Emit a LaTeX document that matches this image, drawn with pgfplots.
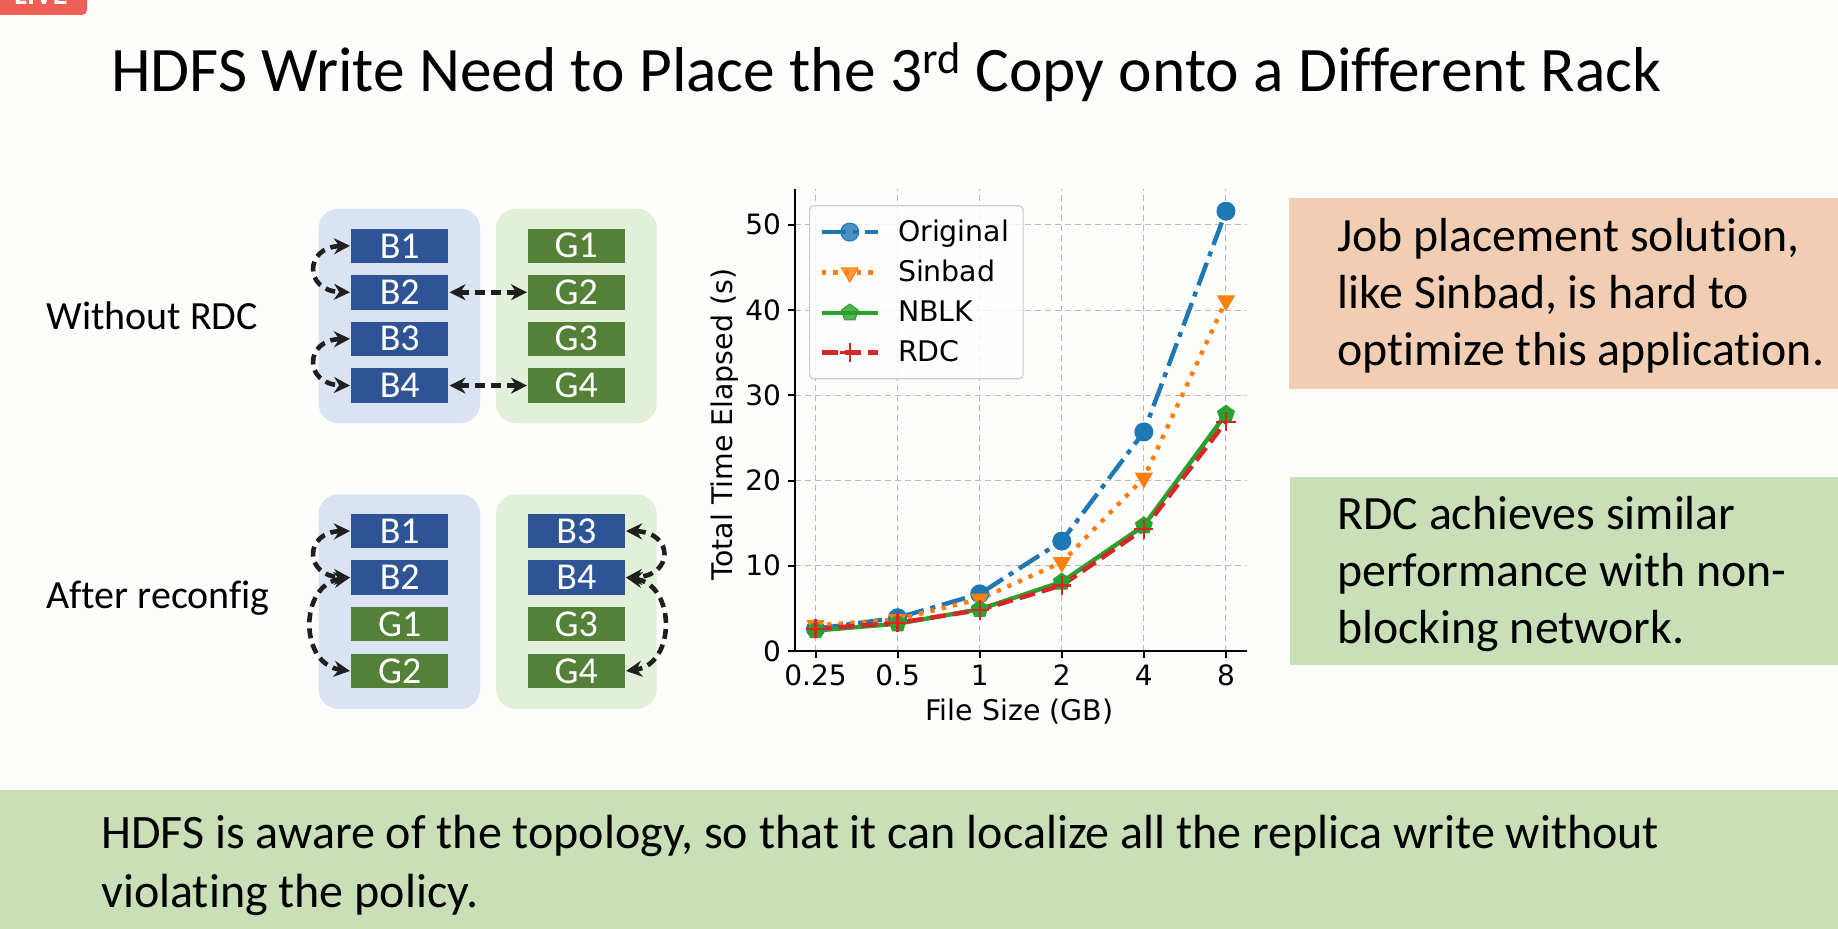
\documentclass[border=0pt]{standalone}
\usepackage{fontspec}
\setmainfont{Carlito}[Ligatures=NoCommon]
\newfontfamily\dejavu{DejaVu Sans}
\usepackage{pgfplots}
\pgfplotsset{compat=1.18}
\usetikzlibrary{arrows.meta}

\definecolor{bg}{RGB}{253,254,252}
\definecolor{livered}{RGB}{238,96,85}
\definecolor{rackblue}{RGB}{218,227,243}
\definecolor{rackgreen}{RGB}{226,240,217}
\definecolor{blkblue}{RGB}{46,84,150}
\definecolor{blkgreen}{RGB}{84,128,56}
\definecolor{peach}{RGB}{241,205,180}
\definecolor{notegreen}{RGB}{200,223,183}
\definecolor{c1}{HTML}{1F77B4}
\definecolor{c2}{HTML}{FF7F0E}
\definecolor{c3}{HTML}{2CA02C}
\definecolor{c4}{HTML}{D62728}

% one pixel of the slide = 0.5pt
\newcommand\blk[4]{\node[fill=#1, minimum width=48.35pt, minimum height=17.25pt, inner sep=0pt,
  text=white, font=\fontsize{19}{21}\selectfont] at (#2,#3) {#4};}

\begin{document}
\begin{tikzpicture}[x=0.5pt, y=0.5pt,
  arr/.style={line width=2.3pt, draw=black!88, dash pattern=on 5pt off 3pt,
    {Stealth[length=8pt,width=8pt]}-{Stealth[length=8pt,width=8pt]}}]
\path[use as bounding box] (0,0) rectangle (1838,928);
\clip (0,0) rectangle (1838,928);

\begin{scope}[shift={(0,928)}, yscale=-1]
  \fill[bg] (0,0) rectangle (1838,928);
  % live badge
  \fill[livered, rounded corners=2.5pt] (-20,-30) rectangle (87,15);
  \node[anchor=base west, text=white, inner sep=0pt, font=\fontsize{15}{15}\selectfont\bfseries] at (14,5) {LIVE};
  % title
  \node[anchor=base west, inner sep=0pt, font=\fontsize{31.7}{38}\selectfont] at (111,91.4)
    {HDFS Write Need to Place the 3\textsuperscript{rd} Copy onto a Different Rack};

  % racks
  \fill[rackblue, rounded corners=10pt] (318.6,208.6) rectangle (480.2,423.3);
  \fill[rackgreen, rounded corners=10pt] (496,208.6) rectangle (656.7,423.3);
  \fill[rackblue, rounded corners=10pt] (318.6,494.3) rectangle (480.2,709);
  \fill[rackgreen, rounded corners=10pt] (496,494.3) rectangle (656.7,709);

  \blk{blkblue}{399.75}{245.8}{B1}
  \blk{blkblue}{399.75}{292.3}{B2}
  \blk{blkblue}{399.75}{338.8}{B3}
  \blk{blkblue}{399.75}{385.6}{B4}
  \blk{blkgreen}{576.35}{245.8}{G1}
  \blk{blkgreen}{576.35}{292.3}{G2}
  \blk{blkgreen}{576.35}{338.8}{G3}
  \blk{blkgreen}{576.35}{385.6}{G4}

  \blk{blkblue}{399.75}{531}{B1}
  \blk{blkblue}{399.75}{577.5}{B2}
  \blk{blkgreen}{399.75}{624}{G1}
  \blk{blkgreen}{399.75}{671}{G2}
  \blk{blkblue}{576.35}{531}{B3}
  \blk{blkblue}{576.35}{577.5}{B4}
  \blk{blkgreen}{576.35}{624}{G3}
  \blk{blkgreen}{576.35}{671}{G4}

  % arrows, without RDC
  \draw[arr] (350,245.8) .. controls (304,247) and (304,291) .. (350,292.3);
  \draw[arr] (350,338.8) .. controls (304,340) and (304,384) .. (350,385.6);
  \draw[arr] (449.5,292.3) -- (527,292.3);
  \draw[arr] (449.5,385.6) -- (527,385.6);
  % arrows, after reconfig
  \draw[arr] (350,531) .. controls (304,532) and (304,576) .. (350,577.5);
  \draw[arr] (350,577.5) .. controls (299,585) and (299,664) .. (350,671);
  \draw[arr] (626,531) .. controls (674,532) and (674,576) .. (626,577.5);
  \draw[arr] (626,577.5) .. controls (676,585) and (676,664) .. (626,671);

  \node[anchor=base west, inner sep=0pt, font=\fontsize{20}{24}\selectfont] at (46,329.3) {Without RDC};
  \node[anchor=base west, inner sep=0pt, font=\fontsize{20}{24}\selectfont] at (46,608.3) {After reconfig};

  % note boxes
  \fill[peach] (1289,198.5) rectangle (1850,389);
  \fill[notegreen] (1290,477) rectangle (1850,665);
  \begin{scope}[every node/.style={anchor=base west, inner sep=0pt, font=\fontsize{23.9}{28}\selectfont}]
    \node at (1337,251.7) {Job placement solution,};
    \node at (1337,308.5) {like Sinbad, is hard to};
    \node at (1337,365.3) {optimize this application.};
    \node at (1337,530) {RDC achieves similar};
    \node at (1337,586.7) {performance with non-};
    \node at (1337,643.4) {blocking network.};
  \end{scope}

  % bottom band
  \fill[notegreen] (0,790) rectangle (1838,940);
  \begin{scope}[every node/.style={anchor=base west, inner sep=0pt, font=\fontsize{24}{28}\selectfont}]
    \node at (101,848) {HDFS is aware of the topology, so that it can localize all the replica write without};
    \node at (101,907) {violating the policy.};
  \end{scope}
\end{scope}

\begin{axis}[
  at={(397.5pt,138.5pt)}, anchor=south west,
  scale only axis, width=225.75pt, height=231pt,
  xmin=-0.25, xmax=5.25, ymin=0, ymax=54.2,
  axis x line*=bottom, axis y line*=left,
  axis line style={line width=1pt, black},
  xtick={0,...,5}, xticklabels={0.25,0.5,1,2,4,8},
  ytick={0,10,...,50},
  tick align=outside, major tick length=3.5pt,
  every tick/.style={black, line width=1pt},
  grid=major,
  major grid style={gray!55, line width=0.5pt, dash pattern=on 3pt off 2pt},
  ticklabel style={font=\dejavu\fontsize{14}{16}\selectfont},
  /pgf/number format/assume math mode=true,
  xlabel={File Size (GB)}, ylabel={Total Time Elapsed (s)},
  label style={font=\dejavu\fontsize{14.2}{16}\selectfont},
  x label style={at={(axis description cs:0.497,-0.131)}, anchor=center},
  y label style={at={(axis description cs:-0.155,0.49)}, anchor=center},
  legend cell align=left,
  legend style={at={(0.031,0.965)}, anchor=north west, draw=black!20, line width=0.6pt,
    fill=white, fill opacity=0.8, text opacity=1, rounded corners=2pt,
    font=\dejavu\fontsize{14.2}{16}\selectfont, row sep=4pt, column sep=7pt,
    inner xsep=5pt, inner ysep=5pt},
  legend image code/.code={\draw[mark repeat=2, mark phase=2, #1]
    plot coordinates {(0pt,0pt) (14pt,0pt) (28pt,0pt)};},
]
\addplot[color=c1, line width=2.2pt, dash pattern=on 12pt off 3.5pt on 2.5pt off 3.5pt,
  mark=*, mark size=4.5pt, mark options={solid, fill=c1, line width=0.5pt}]
  coordinates {(0,2.6) (1,3.9) (2,6.7) (3,12.9) (4,25.7) (5,51.6)};
\addlegendentry{Original}
\addplot[color=c2, line width=2.2pt, dash pattern=on 2.2pt off 3.6pt,
  mark=triangle*, mark size=4.8pt, mark options={solid, rotate=180, fill=c2, line width=0.5pt}]
  coordinates {(0,3.0) (1,3.7) (2,6.1) (3,10.4) (4,20.3) (5,41.1)};
\addlegendentry{Sinbad}
\addplot[color=c3, line width=2.2pt,
  mark=pentagon*, mark size=4.4pt, mark options={solid, fill=c3, line width=0.5pt}]
  coordinates {(0,2.4) (1,3.2) (2,4.9) (3,8.1) (4,14.7) (5,27.8)};
\addlegendentry{NBLK}
\addplot[color=c4, line width=2.2pt, dash pattern=on 8pt off 3.5pt,
  mark=+, mark size=4.8pt, mark options={solid, line width=1.2pt}]
  coordinates {(0,2.6) (1,3.3) (2,4.8) (3,7.7) (4,14.3) (5,26.9)};
\addlegendentry{RDC}
\end{axis}
\end{tikzpicture}
\end{document}
